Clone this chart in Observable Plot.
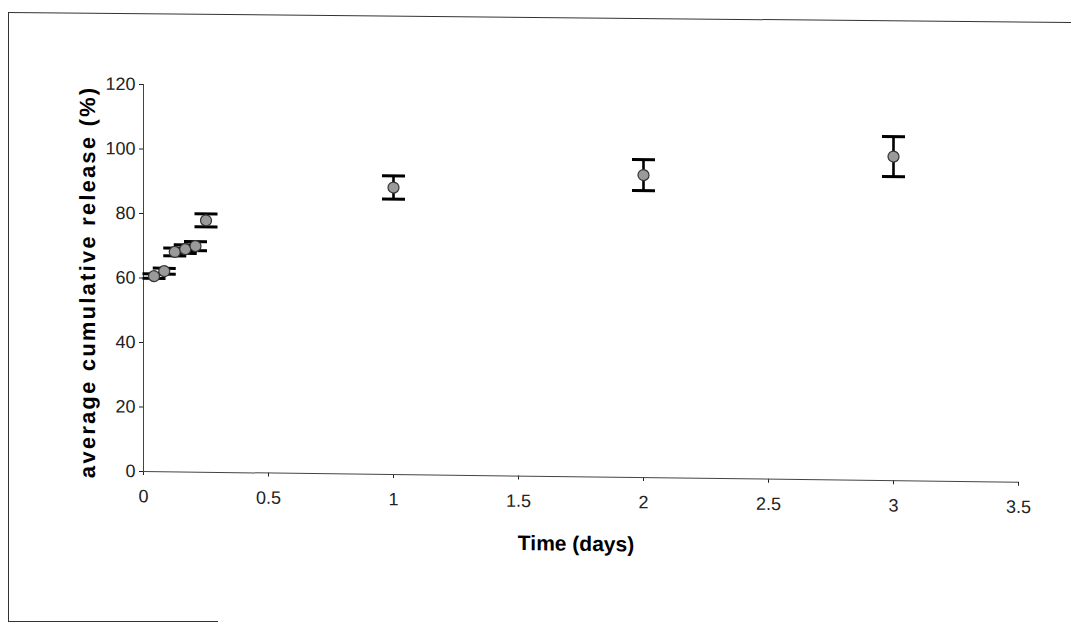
<!DOCTYPE html>
<html>
<head>
<meta charset="utf-8">
<script src="https://cdn.jsdelivr.net/npm/d3@7"></script>
<script src="https://cdn.jsdelivr.net/npm/@observablehq/plot@0.6"></script>
<style>
  html, body { margin: 0; padding: 0; background: #fff; }
  #page { position: relative; width: 1071px; height: 623px; overflow: hidden; background: #fff; }
  #chart svg { position: absolute; left: 0; top: 0; transform: skewY(0.7deg); transform-origin: 143px 471px; }
  .edge { position: absolute; background: #333; }
</style>
</head>
<body>
<div id="page">
  <div id="chart"></div>
  <div class="edge" style="left:8px; top:12px; width:1px; height:610px;"></div>
  <div class="edge" style="left:8px; top:12px; width:1064px; height:1px; transform: rotate(0.54deg); transform-origin: 0 0;"></div>
  <div class="edge" style="left:8px; top:621px; width:210px; height:1px;"></div>
</div>
<script>
// Sampling times (days) and release measurements
const times = [0.042, 0.083, 0.125, 0.167, 0.208, 0.25, 1, 2, 3];
const meanRelease = [60.6, 62.2, 68.2, 69.1, 70.1, 78.1, 89.0, 93.8, 100.5];
const errRelease = [0.7, 0.9, 1.2, 1.3, 1.4, 2.0, 3.6, 4.8, 6.2];

const xTicks = [0, 0.5, 1, 1.5, 2, 2.5, 3, 3.5];
const yTicks = [0, 20, 40, 60, 80, 100, 120];

const xTitle = "Time (days)";
const yTitle = "average cumulative release (%)";

const rows = times.map((t, i) => ({
  t,
  mean: meanRelease[i],
  lo: meanRelease[i] - errRelease[i],
  hi: meanRelease[i] + errRelease[i]
}));

// horizontal stroke used as an error-bar cap
const cap = { draw(ctx) { ctx.moveTo(-11.5, 0); ctx.lineTo(11.5, 0); } };

const chart = Plot.plot({
  width: 1071,
  height: 623,
  marginLeft: 143,
  marginRight: 53,
  marginTop: 84,
  marginBottom: 152,
  style: { fontFamily: "'Liberation Sans', Arial, sans-serif", fontSize: "18px", color: "#222", background: "transparent" },
  x: { domain: [0, 3.5], ticks: xTicks, tickFormat: d => String(d), tickSize: 4, tickPadding: 14, label: null },
  y: { domain: [0, 120], ticks: yTicks, tickSize: 4, tickPadding: 4, label: null },
  marks: [
    Plot.ruleY([0], { stroke: "#444", strokeWidth: 1 }),
    Plot.ruleX([0], { stroke: "#444", strokeWidth: 1 }),
    Plot.ruleX(rows, { x: "t", y1: "lo", y2: "hi", stroke: "#000", strokeWidth: 2.6 }),
    Plot.dot(rows, { x: "t", y: "lo", symbol: cap, stroke: "#000", strokeWidth: 3, fill: "none" }),
    Plot.dot(rows, { x: "t", y: "hi", symbol: cap, stroke: "#000", strokeWidth: 3, fill: "none" }),
    Plot.dot(rows, { x: "t", y: "mean", r: 5.5, fill: "#9a9a9a", stroke: "#333", strokeWidth: 1.2 }),
    Plot.text([xTitle], { frameAnchor: "bottom", dx: -5, dy: 74, fontSize: 21, fontWeight: "bold", fill: "#000" }),
    Plot.text([yTitle], { frameAnchor: "left", textAnchor: "middle", rotate: -90, dx: -56, dy: 4.5, fontSize: 22, fontWeight: "bold", fill: "#000" })
  ]
});

// widen the spacing of the vertical axis title
d3.select(chart).selectAll("text")
  .filter(function () { return this.textContent === yTitle; })
  .attr("letter-spacing", "2.2px")
  .style("letter-spacing", "2.2px");

document.getElementById("chart").appendChild(chart);
</script>
</body>
</html>
